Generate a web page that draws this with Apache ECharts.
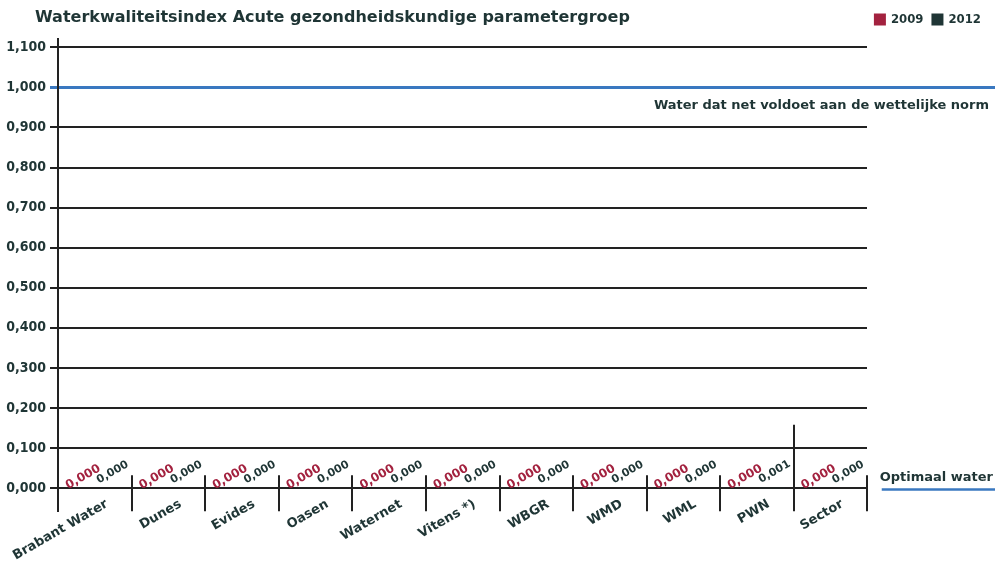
<!DOCTYPE html>
<html>
<head>
<meta charset="utf-8">
<script src="https://cdn.jsdelivr.net/npm/echarts@6/dist/echarts.min.js"></script>
<style>
  html, body { margin: 0; padding: 0; background: #fff; }
  #chart { width: 996px; height: 564px; }
</style>
</head>
<body>
<div id="chart"></div>
<script>
var categories = ['Brabant Water', 'Dunes', 'Evides', 'Oasen', 'Waternet', 'Vitens *)', 'WBGR', 'WMD', 'WML', 'PWN', 'Sector'];
var values2009 = [0, 0, 0, 0, 0, 0, 0, 0, 0, 0, 0];
var values2012 = [0, 0, 0, 0, 0, 0, 0, 0, 0, 0.001, 0];
var normValue = 1.0;
var optimalValue = 0.0;

var red = '#a3223f';
var dark = '#1f3535';
var blue = '#3a78c0';
var font = 'DejaVu Sans';
var fontCond = 'DejaVu Sans Condensed';

function nl(v) {
  return v.toFixed(3).replace('.', ',');
}

var chart = echarts.init(document.getElementById('chart'));

var option = {
  backgroundColor: '#fff',
  animation: false,
  textStyle: { fontFamily: font },
  title: {
    text: 'Waterkwaliteitsindex Acute gezondheidskundige parametergroep',
    left: 30,
    top: 5,
    textStyle: { fontSize: 16, fontWeight: 'bold', color: dark, fontFamily: font }
  },
  legend: {
    right: 10,
    top: 8,
    itemWidth: 12,
    itemHeight: 12,
    itemGap: 8,
    icon: 'rect',
    data: ['2009', '2012'],
    textStyle: { fontSize: 13, fontWeight: 'bold', color: dark, fontFamily: fontCond }
  },
  grid: [
    { left: 58, right: 129, top: 47, bottom: 75 },
    { left: 50, right: 1, top: 38, bottom: 52 }
  ],
  xAxis: [
    {
      type: 'category',
      gridIndex: 0,
      data: categories,
      axisLine: { show: true, lineStyle: { color: '#222', width: 2 } },
      axisTick: { show: true, interval: 0, inside: false, length: 23, lineStyle: { color: '#222', width: 2 } },
      axisLabel: {
        interval: 0,
        rotate: 30,
        margin: 22,
        padding: [0, -14, 0, 0],
        fontSize: 13,
        fontWeight: 'bold',
        color: dark,
        fontFamily: font
      }
    },
    {
      type: 'category',
      gridIndex: 0,
      position: 'bottom',
      data: categories,
      axisLine: { show: false },
      axisTick: { show: true, interval: 0, inside: true, length: 13, lineStyle: { color: '#222', width: 2 } },
      axisLabel: { show: false, interval: 0 }
    },
    {
      type: 'value',
      gridIndex: 1,
      min: -0.109,
      max: 12.74,
      show: false
    }
  ],
  yAxis: [
    {
      type: 'value',
      gridIndex: 0,
      min: 0,
      max: 1.1,
      interval: 0.1,
      axisLine: { show: true, lineStyle: { color: '#222', width: 2 } },
      axisTick: { show: true, length: 8, lineStyle: { color: '#222', width: 2 } },
      splitLine: { lineStyle: { color: '#222', width: 2 } },
      axisLabel: {
        margin: 12,
        fontSize: 14,
        fontWeight: 'bold',
        color: dark,
        fontFamily: fontCond,
        formatter: function (v) { return nl(v); }
      }
    },
    {
      type: 'value',
      gridIndex: 1,
      min: -0.0572,
      max: 1.1224,
      show: false
    }
  ],
  series: [
    {
      name: '2009',
      type: 'bar',
      xAxisIndex: 0,
      yAxisIndex: 0,
      data: values2009,
      barWidth: 26,
      barGap: '20%',
      itemStyle: { color: red },
      label: {
        show: true,
        position: 'top',
        distance: 10,
        offset: [4, 7],
        rotate: 30,
        fontSize: 12,
        fontWeight: 'bold',
        color: red,
        fontFamily: font,
        formatter: function (p) { return nl(p.value); }
      }
    },
    {
      name: '2012',
      type: 'bar',
      xAxisIndex: 0,
      yAxisIndex: 0,
      data: values2012,
      barWidth: 26,
      itemStyle: { color: dark },
      label: {
        show: true,
        position: 'top',
        distance: 14,
        offset: [3, 5],
        rotate: 30,
        fontSize: 11,
        fontWeight: 'bold',
        color: dark,
        fontFamily: font,
        formatter: function (p) { return nl(p.value); }
      }
    },
    {
      name: 'norm',
      type: 'line',
      xAxisIndex: 2,
      yAxisIndex: 1,
      data: [],
      silent: true,
      z: 5,
      markLine: {
        symbol: 'none',
        silent: true,
        data: [
          {
            yAxis: normValue,
            lineStyle: { color: blue, width: 3, type: 'solid' },
            label: {
              show: true,
              position: 'insideEndBottom',
              formatter: 'Water dat net voldoet aan de wettelijke norm',
              fontSize: 13,
              fontWeight: 'bold',
              color: dark,
              fontFamily: font,
              distance: [6, 12]
            }
          },
          [
            {
              coord: [11.2, optimalValue],
              lineStyle: { color: blue, width: 2.5, type: 'solid' },
              label: {
                show: true,
                position: 'insideEndTop',
                formatter: 'Optimaal water',
                fontSize: 13,
                fontWeight: 'bold',
                color: dark,
                fontFamily: font,
                distance: [2, 5]
              }
            },
            { coord: [12.74, optimalValue] }
          ],
          [
            {
              coord: [10, optimalValue],
              lineStyle: { color: '#222', width: 2, type: 'solid' },
              label: { show: false }
            },
            { coord: [10, 0.16] }
          ],
          [
            {
              coord: [0, -0.0572],
              lineStyle: { color: '#222', width: 2, type: 'solid' },
              label: { show: false }
            },
            { coord: [0, 1.1224] }
          ]
        ]
      }
    }
  ]
};

chart.setOption(option);
</script>
</body>
</html>
